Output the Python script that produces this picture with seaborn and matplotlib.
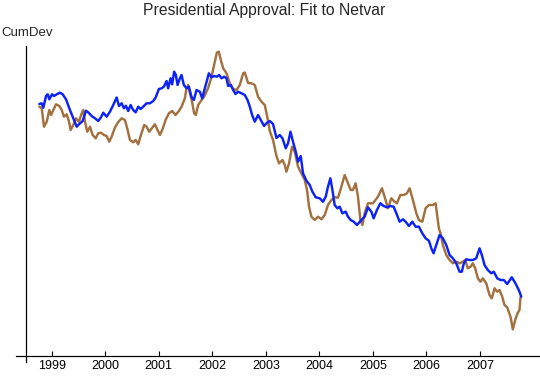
import numpy as np
import pandas as pd
import matplotlib
matplotlib.use("Agg")
import matplotlib.pyplot as plt
import seaborn as sns

# approval (brown) vs. netvar fit (blue)
approval_t = [1998.769, 1998.813, 1998.856, 1998.907, 1998.955, 1998.987, 1999.030, 1999.080,
              1999.142, 1999.187, 1999.229, 1999.280, 1999.323, 1999.354, 1999.403, 1999.453,
              1999.509, 1999.560, 1999.590, 1999.621, 1999.664, 1999.715, 1999.765, 1999.821,
              1999.869, 1999.920, 1999.976, 2000.026, 2000.075, 2000.119, 2000.181, 2000.243,
              2000.306, 2000.368, 2000.418, 2000.461, 2000.522, 2000.567, 2000.616, 2000.666,
              2000.728, 2000.772, 2000.821, 2000.877, 2000.927, 2000.978, 2001.021, 2001.071,
              2001.127, 2001.188, 2001.250, 2001.313, 2001.375, 2001.425, 2001.487, 2001.519,
              2001.549, 2001.580, 2001.623, 2001.660, 2001.692, 2001.735, 2001.799, 2001.847,
              2001.922, 2001.985, 2002.034, 2002.084, 2002.121, 2002.159, 2002.202, 2002.265,
              2002.327, 2002.388, 2002.452, 2002.513, 2002.575, 2002.606, 2002.668, 2002.731,
              2002.793, 2002.854, 2002.918, 2002.980, 2003.030, 2003.073, 2003.134, 2003.198,
              2003.246, 2003.310, 2003.353, 2003.384, 2003.433, 2003.489, 2003.539, 2003.601,
              2003.664, 2003.726, 2003.769, 2003.806, 2003.851, 2003.912, 2003.974, 2004.037,
              2004.099, 2004.160, 2004.224, 2004.285, 2004.347, 2004.410, 2004.472, 2004.534,
              2004.584, 2004.627, 2004.677, 2004.720, 2004.765, 2004.802, 2004.845, 2004.907,
              2005.000, 2005.093, 2005.168, 2005.218, 2005.280, 2005.343, 2005.405, 2005.448,
              2005.511, 2005.573, 2005.634, 2005.685, 2005.746, 2005.810, 2005.858, 2005.922,
              2005.983, 2006.045, 2006.119, 2006.170, 2006.231, 2006.263, 2006.306, 2006.369,
              2006.431, 2006.493, 2006.556, 2006.618, 2006.679, 2006.724, 2006.772, 2006.823,
              2006.866, 2006.910, 2006.959, 2007.009, 2007.052, 2007.116, 2007.177, 2007.220,
              2007.271, 2007.321, 2007.364, 2007.414, 2007.457, 2007.507, 2007.569, 2007.612,
              2007.657, 2007.694, 2007.737, 2007.756]
approval = [24.88, 24.72, 22.88, 23.38, 24.55, 24.05, 24.55, 25.12,
            24.95, 24.55, 23.88, 24.12, 23.38, 22.55, 23.05, 23.72,
            23.38, 24.22, 24.55, 23.38, 22.38, 22.88, 22.05, 21.72,
            22.22, 22.28, 22.05, 21.95, 21.38, 21.88, 22.80, 23.35,
            23.72, 23.55, 22.55, 21.55, 21.32, 21.55, 21.12, 22.05,
            23.05, 22.88, 22.38, 22.78, 23.12, 22.55, 22.05, 22.65,
            23.55, 24.22, 24.45, 24.05, 24.45, 24.88, 25.72, 26.75,
            27.05, 26.25, 25.35, 24.22, 24.05, 25.05, 25.55, 25.88,
            26.75, 27.88, 29.05, 30.28, 30.38, 29.55, 28.72, 28.22,
            27.22, 26.65, 26.55, 27.05, 28.22, 28.30, 27.25, 27.22,
            27.05, 25.88, 25.38, 25.05, 23.75, 22.45, 21.55, 19.95,
            19.22, 19.55, 19.05, 18.38, 19.22, 20.88, 20.38, 18.88,
            18.22, 17.55, 16.55, 14.88, 13.88, 13.55, 13.88, 13.62,
            14.05, 15.05, 15.55, 15.82, 15.78, 16.88, 18.05, 17.22,
            16.55, 16.55, 17.22, 15.88, 13.55, 13.05, 14.22, 15.22,
            15.22, 15.88, 16.72, 15.88, 14.72, 15.72, 15.38, 15.22,
            16.05, 16.05, 16.22, 16.72, 15.55, 14.22, 13.55, 13.38,
            14.72, 15.05, 15.05, 15.22, 12.72, 12.22, 11.05, 10.05,
            9.55, 9.22, 9.38, 9.22, 9.38, 9.55, 8.72, 8.88,
            9.22, 8.72, 7.72, 7.38, 7.72, 7.22, 6.05, 5.72,
            6.72, 6.38, 6.55, 5.88, 5.05, 4.82, 3.88, 2.62,
            3.55, 4.15, 4.55, 5.82]

fit_t = [1998.769, 1998.813, 1998.843, 1998.894, 1998.925, 1998.955, 1999.006, 1999.043,
         1999.093, 1999.155, 1999.205, 1999.267, 1999.299, 1999.341, 1999.403, 1999.466,
         1999.515, 1999.578, 1999.640, 1999.690, 1999.746, 1999.808, 1999.869, 1999.920,
         1999.963, 2000.026, 2000.088, 2000.149, 2000.213, 2000.256, 2000.306, 2000.349,
         2000.386, 2000.429, 2000.474, 2000.522, 2000.567, 2000.616, 2000.660, 2000.709,
         2000.772, 2000.834, 2000.896, 2000.940, 2001.002, 2001.052, 2001.095, 2001.146,
         2001.175, 2001.220, 2001.250, 2001.287, 2001.319, 2001.351, 2001.394, 2001.425,
         2001.468, 2001.519, 2001.562, 2001.612, 2001.655, 2001.705, 2001.767, 2001.810,
         2001.860, 2001.935, 2001.985, 2002.034, 2002.084, 2002.127, 2002.172, 2002.220,
         2002.265, 2002.295, 2002.345, 2002.388, 2002.433, 2002.481, 2002.545, 2002.606,
         2002.657, 2002.700, 2002.743, 2002.793, 2002.854, 2002.905, 2002.966, 2003.011,
         2003.073, 2003.134, 2003.198, 2003.259, 2003.310, 2003.371, 2003.414, 2003.459,
         2003.507, 2003.558, 2003.601, 2003.651, 2003.694, 2003.757, 2003.819, 2003.869,
         2003.931, 2004.006, 2004.067, 2004.118, 2004.160, 2004.205, 2004.243, 2004.285,
         2004.336, 2004.379, 2004.429, 2004.491, 2004.534, 2004.584, 2004.640, 2004.701,
         2004.784, 2004.845, 2004.907, 2004.970, 2005.013, 2005.075, 2005.138, 2005.200,
         2005.261, 2005.325, 2005.386, 2005.437, 2005.498, 2005.560, 2005.610, 2005.672,
         2005.735, 2005.797, 2005.858, 2005.922, 2005.983, 2006.045, 2006.090, 2006.132,
         2006.183, 2006.244, 2006.306, 2006.369, 2006.431, 2006.493, 2006.556, 2006.618,
         2006.660, 2006.698, 2006.743, 2006.804, 2006.866, 2006.929, 2006.959, 2006.991,
         2007.034, 2007.084, 2007.146, 2007.209, 2007.257, 2007.321, 2007.382, 2007.444,
         2007.507, 2007.550, 2007.593, 2007.644, 2007.694, 2007.737, 2007.769]
fit = [25.15, 25.22, 24.78, 25.95, 26.12, 25.62, 26.12, 25.95,
       26.12, 26.28, 26.12, 25.62, 25.15, 24.55, 23.72, 22.88,
       23.15, 23.45, 24.48, 24.28, 23.95, 23.72, 23.45, 23.82,
       24.28, 23.88, 24.38, 25.05, 25.80, 24.95, 25.22, 24.72,
       24.98, 24.45, 25.05, 24.55, 24.32, 24.88, 24.65, 24.88,
       25.22, 25.22, 25.45, 25.78, 26.65, 26.72, 26.88, 27.45,
       26.72, 27.72, 27.12, 28.38, 28.05, 27.05, 27.72, 28.05,
       27.05, 26.72, 26.88, 25.85, 25.55, 26.55, 26.38, 25.72,
       26.72, 28.22, 27.82, 27.95, 27.88, 28.05, 27.72, 27.88,
       27.72, 26.95, 27.05, 26.55, 26.15, 26.38, 26.22, 26.05,
       25.55, 24.88, 24.05, 23.38, 24.05, 23.55, 22.95, 23.22,
       23.45, 23.15, 21.75, 22.05, 21.72, 20.72, 21.22, 22.38,
       21.38, 20.38, 19.38, 19.95, 18.22, 17.48, 17.05, 16.38,
       15.82, 15.72, 15.38, 15.88, 16.88, 17.72, 16.55, 15.05,
       14.72, 14.88, 14.22, 14.38, 13.88, 13.55, 13.38, 13.05,
       13.55, 13.88, 14.82, 14.38, 13.72, 14.55, 15.22, 14.95,
       14.82, 14.95, 14.88, 14.22, 13.38, 13.62, 13.38, 12.95,
       13.38, 12.88, 12.88, 12.22, 11.72, 11.48, 10.72, 10.22,
       11.05, 12.05, 11.72, 11.05, 10.05, 9.72, 9.22, 8.38,
       8.38, 9.22, 9.62, 9.55, 9.55, 9.72, 10.22, 10.72,
       10.05, 9.05, 8.55, 8.22, 8.38, 7.72, 7.55, 7.55,
       7.15, 7.48, 7.82, 7.38, 6.88, 6.38, 5.88]

years = list(range(1999, 2008))

sns.set_style("ticks")
plt.rcParams['font.family'] = ['Liberation Sans', 'DejaVu Sans']

fig = plt.figure(figsize=(5.4, 3.76), dpi=100)
ax = fig.add_axes([16 / 540, 14 / 376, 524 / 540, 316 / 376])

df_a = pd.DataFrame({"t": approval_t, "v": approval})
df_f = pd.DataFrame({"t": fit_t, "v": fit})
sns.lineplot(data=df_a, x="t", y="v", ax=ax, color="#a3713f", linewidth=1.75,
             estimator=None, sort=False)
sns.lineplot(data=df_f, x="t", y="v", ax=ax, color="#0c22f8", linewidth=1.75,
             estimator=None, sort=False)

ax.set_xlim(1998.333, 2008.12)
ax.set_ylim(-0.65, 30.95)
ax.spines["top"].set_visible(False)
ax.spines["right"].set_visible(False)
ax.spines["left"].set_position(("data", 1998.52))
ax.spines["bottom"].set_position(("data", 0))
for s in ("left", "bottom"):
    ax.spines[s].set_linewidth(0.9)
    ax.spines[s].set_color("black")

ax.set_xticks(years)
ax.set_xticklabels([str(y) for y in years], fontsize=9)
ax.set_yticks([])
ax.tick_params(axis="x", direction="in", length=3.5, width=0.8, pad=3, colors="black")
ax.set_xlabel("")
ax.set_ylabel("")

fig.text(264.5 / 540, 1 - 10 / 376, "Presidential Approval: Fit to Netvar",
         ha="center", va="center", fontsize=11.3)
fig.text(1 / 540, 1 - 33 / 376, "CumDev", ha="left", va="center", fontsize=9.5)

fig.savefig("out.png", dpi=100)
